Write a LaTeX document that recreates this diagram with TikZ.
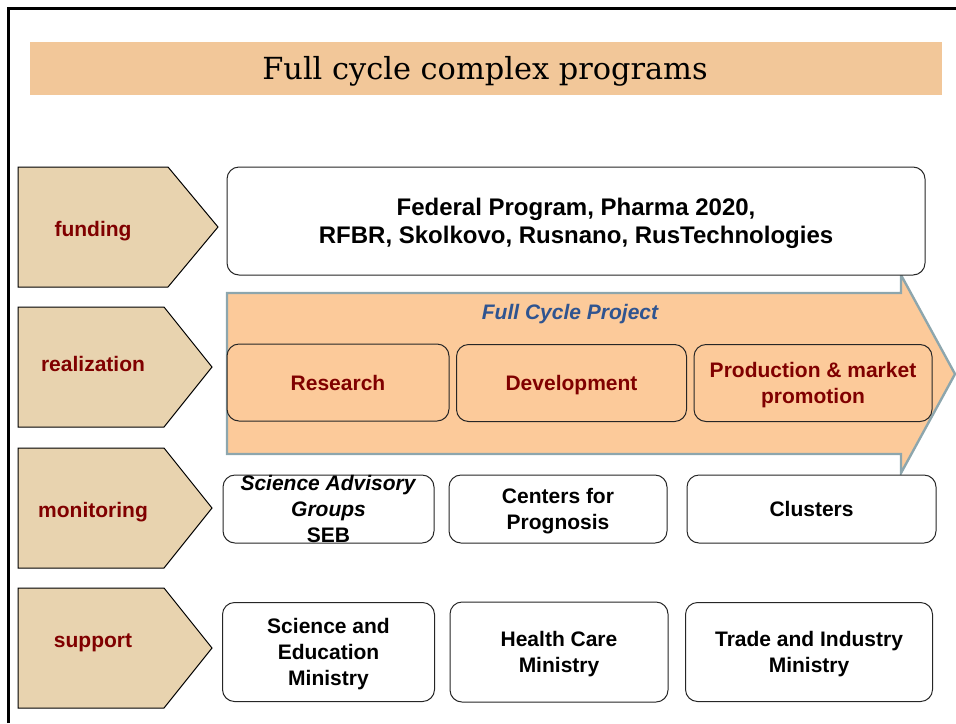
\documentclass[tikz,border=0pt]{standalone}
\usepackage{fontspec}
\setmainfont{Liberation Sans}
\setsansfont{Liberation Sans}
\newfontfamily\titlefont{DejaVu Serif}
\definecolor{titlebg}{HTML}{F2C799}
\definecolor{tagfill}{HTML}{E8D3AF}
\definecolor{cyclefill}{HTML}{FCCA9A}
\definecolor{cycleline}{HTML}{8DA6AD}
\definecolor{tagred}{HTML}{800000}
\definecolor{projblue}{HTML}{2F5490}
\tikzset{
	txt/.style={font=\bfseries\fontsize{10.5}{13}\selectfont, align=center},
	tag/.style={txt, text=tagred},
	box/.style={txt, draw=black!85, line width=0.5pt, fill=white, rounded corners=6pt, inner sep=0pt, text depth=0pt},
	stage/.style={box, fill=cyclefill, text=tagred, minimum height=38.5pt}
}
\begin{document}
\begin{tikzpicture}[x=0.5pt,y=-0.5pt]
			\useasboundingbox (0,0) rectangle (956,723);
			\draw [line width=1.3pt] (8.5,723)--(8.5,8.5)--(956,8.5);
			\fill [titlebg] (30,42) rectangle (942,95);
			\node (title) at (485,71.5) {\titlefont\fontsize{15.2}{18}\selectfont Full cycle complex programs};
			\foreach \y/\ty/\s/\t/\name/\lbl in {227/231/168/218/fund/funding, 367/364/164/212/real/realization, 508/512/164/212/mon/monitoring, 648/643/164/212/sup/support}{
				\draw [fill=tagfill, line width=0.5pt] (18,\y-60)--(\s,\y-60)--(\t,\y)--(\s,\y+60)--(18,\y+60)--cycle;
				\node [tag] (\name) at (93,\ty) {\lbl};
			}
			\draw [fill=cyclefill, draw=cycleline, line width=1.2pt] (227,293)--(901,293)--(901,275)--(955,374)--(901,473)--(901,454)--(227,454)--cycle;
			\node [box, minimum width=349pt, minimum height=54pt, font=\bfseries\fontsize{12}{14}\selectfont] (fed) at (576,221) {Federal Program, Pharma 2020,\\ RFBR, Skolkovo, Rusnano, RusTechnologies};
			\node [txt, text=projblue, font=\bfseries\itshape\fontsize{10.5}{12.5}\selectfont] (proj) at (570,314) {Full Cycle Project};
			\node [stage, minimum width=111pt] (res) at (338,382.5) {Research};
			\node [stage, minimum width=115pt] (dev) at (571.5,383) {Development};
			\node [stage, minimum width=119pt] (prod) at (813,383) {Production \& market\\ promotion};
			\node [box, minimum width=105.5pt, minimum height=34pt] (sag) at (328.5,509) {\textit{Science Advisory}\\ \textit{Groups}\\ SEB};
			\node [box, minimum width=109pt, minimum height=34pt] (prog) at (558,509) {Centers for\\ Prognosis};
			\node [box, minimum width=124.5pt, minimum height=34pt] (clus) at (811.5,509) {Clusters};
			\node [box, minimum width=106pt, minimum height=49.5pt] (edu) at (328.5,652) {Science and\\ Education\\ Ministry};
			\node [box, minimum width=109pt, minimum height=50pt] (health) at (559,652) {Health Care\\ Ministry};
			\node [box, minimum width=123.5pt, minimum height=49.5pt] (trade) at (809,652) {Trade and Industry\\ Ministry};
			\end{tikzpicture}
\end{document}
